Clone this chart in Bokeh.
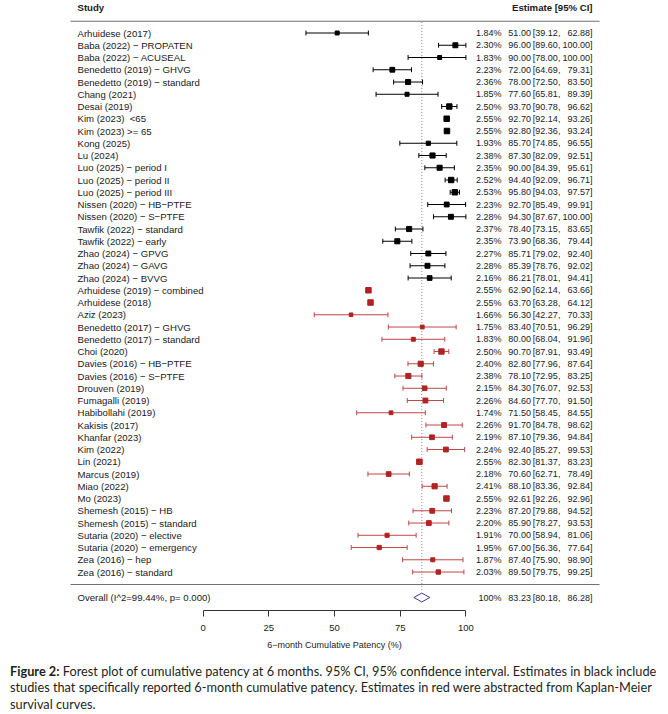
from bokeh.plotting import figure
from bokeh.models import Range1d, Div, ColumnDataSource, FixedTicker
from bokeh.layouts import column
from bokeh.embed import file_html
from bokeh.resources import INLINE
from bokeh.core.properties import value

# ---------------- data ----------------
studies = [
    "Arhuidese (2017)", "Baba (2022) − PROPATEN", "Baba (2022) − ACUSEAL",
    "Benedetto (2019) − GHVG", "Benedetto (2019) − standard", "Chang (2021)",
    "Desai (2019)", "Kim (2023)\u00a0 <65", "Kim (2023) >= 65", "Kong (2025)", "Lu (2024)",
    "Luo (2025) − period I", "Luo (2025) − period II", "Luo (2025) − period III",
    "Nissen (2020) − HB−PTFE", "Nissen (2020) − S−PTFE", "Tawfik (2022) − standard",
    "Tawfik (2022) − early", "Zhao (2024) − GPVG", "Zhao (2024) − GAVG", "Zhao (2024) − BVVG",
    "Arhuidese (2019) − combined", "Arhuidese (2018)", "Aziz (2023)",
    "Benedetto (2017) − GHVG", "Benedetto (2017) − standard", "Choi (2020)",
    "Davies (2016) − HB−PTFE", "Davies (2016) − S−PTFE", "Drouven (2019)",
    "Fumagalli (2019)", "Habibollahi (2019)", "Kakisis (2017)", "Khanfar (2023)",
    "Kim (2022)", "Lin (2021)", "Marcus (2019)", "Miao (2022)", "Mo (2023)",
    "Shemesh (2015) − HB", "Shemesh (2015) − standard", "Sutaria (2020) − elective",
    "Sutaria (2020) − emergency", "Zea (2016) − hep", "Zea (2016) − standard",
]
weights = [1.84, 2.30, 1.83, 2.23, 2.36, 1.85, 2.50, 2.55, 2.55, 1.93, 2.38,
           2.35, 2.52, 2.53, 2.23, 2.28, 2.37, 2.35, 2.27, 2.28, 2.16,
           2.55, 2.55, 1.66, 1.75, 1.83, 2.50, 2.40, 2.38, 2.15, 2.26, 1.74,
           2.26, 2.19, 2.24, 2.55, 2.18, 2.41, 2.55, 2.23, 2.20, 1.91, 1.95,
           1.87, 2.03]
estimates = [51.00, 96.00, 90.00, 72.00, 78.00, 77.60, 93.70, 92.70, 92.80, 85.70, 87.30,
             90.00, 94.40, 95.80, 92.70, 94.30, 78.40, 73.90, 85.71, 85.39, 86.21,
             62.90, 63.70, 56.30, 83.40, 80.00, 90.70, 82.80, 78.10, 84.30, 84.60, 71.50,
             91.70, 87.10, 92.40, 82.30, 70.60, 88.10, 92.61, 87.20, 85.90, 70.00, 67.00,
             87.40, 89.50]
ci_lower = [39.12, 89.60, 78.00, 64.69, 72.50, 65.81, 90.78, 92.14, 92.36, 74.85, 82.09,
            84.39, 92.09, 94.03, 85.49, 87.67, 73.15, 68.36, 79.02, 78.76, 78.01,
            62.14, 63.28, 42.27, 70.51, 68.04, 87.91, 77.96, 72.95, 76.07, 77.70, 58.45,
            84.78, 79.36, 85.27, 81.37, 62.71, 83.36, 92.26, 79.88, 78.27, 58.94, 56.36,
            75.90, 79.75]
ci_upper = [62.88, 100.00, 100.00, 79.31, 83.50, 89.39, 96.62, 93.26, 93.24, 96.55, 92.51,
            95.61, 96.71, 97.57, 99.91, 100.00, 83.65, 79.44, 92.40, 92.02, 94.41,
            63.66, 64.12, 70.33, 96.29, 91.96, 93.49, 87.64, 83.25, 92.53, 91.50, 84.55,
            98.62, 94.84, 99.53, 83.23, 78.49, 92.84, 92.96, 94.52, 93.53, 81.06, 77.64,
            98.90, 99.25]
# True = abstracted from Kaplan-Meier curves (red), False = reported directly (black)
km_abstracted = [False] * 21 + [True] * 24

overall_est, overall_lo, overall_hi = 83.23, 80.18, 86.28
overall_label = "Overall (I^2=99.44%, p= 0.000)"
overall_weight = "100%"
x_ticks = [0, 25, 50, 75, 100]
x_label = "6−month Cumulative Patency (%)"

# ---------------- build ----------------
n = len(studies)
rows = list(range(1, n + 1))
BLACK = "#000000"
RED = "#B22222"
RED_LINE = "#BE4646"
mcolors = [RED if k else BLACK for k in km_abstracted]
lcolors = [RED_LINE if k else BLACK for k in km_abstracted]
wmin, wmax = min(weights), max(weights)
sizes = [3.6 + 1.9 * (w - wmin) / (wmax - wmin) for w in weights]

src = ColumnDataSource(dict(
    y=rows, est=estimates, lo=ci_lower, hi=ci_upper, mcolor=mcolors, lcolor=lcolors,
    size=sizes, study=studies,
    wtxt=[f"{w:.2f}%" for w in weights],
    etxt=[f"{e:.2f}" for e in estimates],
    lotxt=[f"[{l:.2f}," for l in ci_lower],
    hitxt=[f"{h:.2f}]" for h in ci_upper],
    ylo=[r - 0.2 for r in rows], yhi=[r + 0.2 for r in rows],
))

FONT = value("Liberation Sans")
TXT = "#1a1a1a"
LAB_FS = "9.6px"
NUM_FS = "9px"

p = figure(frame_width=668, frame_height=610,
           x_range=Range1d(-77.17, 177.14), y_range=Range1d(48.14, -1.653),
           output_backend="svg", toolbar_location=None,
           min_border_left=0, min_border_right=0, min_border_top=0, min_border_bottom=46,
           y_axis_location=None, outline_line_color=None)
p.xgrid.visible = False
p.ygrid.visible = False

# column positions (data units of the x scale)
X_STUDY = -47.86
X_WEIGHT = 113.56
X_EST = 124.75
X_LO = 125.5
X_HI = 148.21
X_RULE0, X_RULE1 = -50.52, 150.87

# header
p.text(x=[X_STUDY], y=[-1.06], text=["Study"], text_font=FONT, text_font_size=LAB_FS,
       text_font_style="bold", text_align="left", text_baseline="middle", text_color=TXT)
p.text(x=[X_HI], y=[-1.06], text=["Estimate [95% CI]"], text_font=FONT, text_font_size=LAB_FS,
       text_font_style="bold", text_align="right", text_baseline="middle", text_color=TXT)
p.segment(x0=[X_RULE0], y0=[0.04], x1=[X_RULE1], y1=[0.04], line_color="#6e6e6e", line_width=1)
p.segment(x0=[X_RULE0], y0=[46.02], x1=[X_RULE1], y1=[46.02], line_color="#6e6e6e", line_width=1)

# reference line at the overall estimate
p.segment(x0=[overall_est], y0=[0.1], x1=[overall_est], y1=[46.6],
          line_color="#8a8a8a", line_width=1, line_dash="1 2")

# CIs
p.segment(x0="lo", y0="y", x1="hi", y1="y", source=src, line_color="lcolor", line_width=1)
p.segment(x0="lo", y0="ylo", x1="lo", y1="yhi", source=src, line_color="lcolor", line_width=1)
p.segment(x0="hi", y0="ylo", x1="hi", y1="yhi", source=src, line_color="lcolor", line_width=1)
p.scatter(x="est", y="y", size="size", marker="square", source=src,
          fill_color="mcolor", line_color="mcolor")

# row texts
p.text(x=X_STUDY, y="y", text="study", source=src, text_font=FONT, text_font_size=LAB_FS,
       text_align="left", text_baseline="middle", text_color=TXT)
p.text(x=X_WEIGHT, y="y", text="wtxt", source=src, text_font=FONT, text_font_size=NUM_FS,
       text_align="right", text_baseline="middle", text_color=TXT)
p.text(x=X_EST, y="y", text="etxt", source=src, text_font=FONT, text_font_size=NUM_FS,
       text_align="right", text_baseline="middle", text_color=TXT)
p.text(x=X_LO, y="y", text="lotxt", source=src, text_font=FONT, text_font_size=NUM_FS,
       text_align="left", text_baseline="middle", text_color=TXT)
p.text(x=X_HI, y="y", text="hitxt", source=src, text_font=FONT, text_font_size=NUM_FS,
       text_align="right", text_baseline="middle", text_color=TXT)

# overall
Y_OV = 47.08
p.patch(x=[overall_lo, overall_est, overall_hi, overall_est],
        y=[Y_OV, Y_OV - 0.36, Y_OV, Y_OV + 0.36],
        fill_color=None, line_color="#3a3aa0", line_width=1)
p.text(x=[X_STUDY], y=[Y_OV], text=[overall_label], text_font=FONT, text_font_size=LAB_FS,
       text_align="left", text_baseline="middle", text_color=TXT)
p.text(x=[X_WEIGHT], y=[Y_OV], text=[overall_weight], text_font=FONT, text_font_size=NUM_FS,
       text_align="right", text_baseline="middle", text_color=TXT)
p.text(x=[X_EST], y=[Y_OV], text=[f"{overall_est:.2f}"], text_font=FONT, text_font_size=NUM_FS,
       text_align="right", text_baseline="middle", text_color=TXT)
p.text(x=[X_LO], y=[Y_OV], text=[f"[{overall_lo:.2f},"], text_font=FONT, text_font_size=NUM_FS,
       text_align="left", text_baseline="middle", text_color=TXT)
p.text(x=[X_HI], y=[Y_OV], text=[f"{overall_hi:.2f}]"], text_font=FONT, text_font_size=NUM_FS,
       text_align="right", text_baseline="middle", text_color=TXT)

# x axis
ax = p.xaxis[0]
ax.ticker = FixedTicker(ticks=x_ticks)
ax.bounds = (x_ticks[0], x_ticks[-1])
ax.minor_tick_line_color = None
ax.major_tick_in = 0
ax.major_tick_out = 6
ax.major_label_standoff = 8
ax.axis_line_color = "#333333"
ax.major_tick_line_color = "#333333"
ax.major_label_text_font = "Liberation Sans"
ax.major_label_text_font_size = "9.5px"
ax.major_label_text_color = TXT
ax.axis_label = x_label
ax.axis_label_text_font = "Liberation Sans"
ax.axis_label_text_font_size = "9px"
ax.axis_label_text_font_style = "normal"
ax.axis_label_text_color = TXT
ax.axis_label_standoff = 6

caption = Div(
    text=("<div style='font-family:Lato, sans-serif; font-size:12.75px; line-height:16.3px; "
          "color:#231f20; white-space:nowrap; padding-left:10px; padding-top:7px;'>"
          "<b>Figure 2:</b> Forest plot of cumulative patency at 6 months. 95% CI, 95% confidence "
          "interval. Estimates in black include<br>"
          "studies that specifically reported 6-month cumulative patency. Estimates in red were "
          "abstracted from Kaplan-Meier<br>"
          "survival curves.</div>"),
    width=668, height=57, margin=(0, 0, 0, 0))

layout = column(p, caption, spacing=0)
open("out.html", "w").write(file_html(layout, INLINE))
